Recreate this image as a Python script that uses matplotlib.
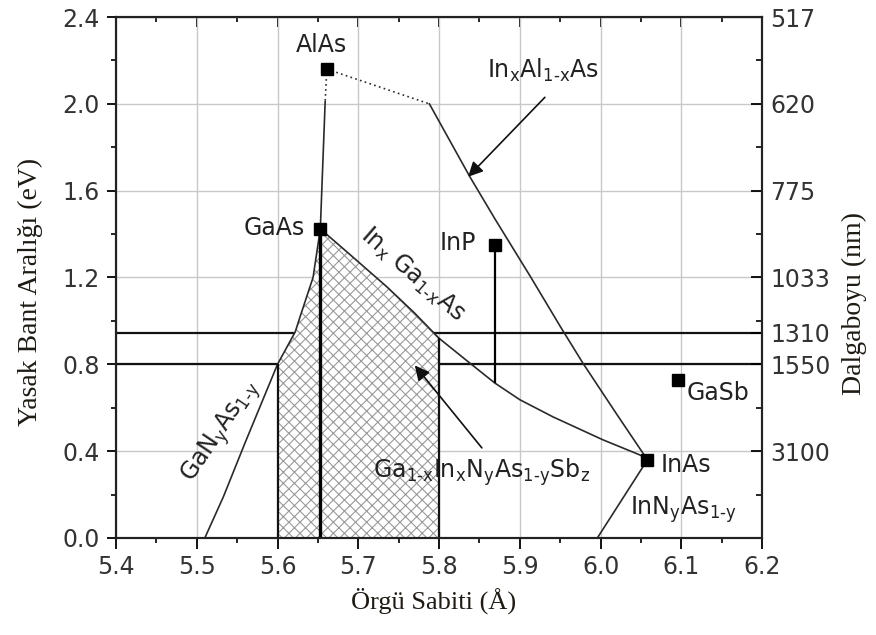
import numpy as np
import matplotlib.pyplot as plt
from matplotlib.patches import Polygon

plt.rcParams['font.family'] = 'DejaVu Sans'
plt.rcParams['hatch.linewidth'] = 0.8

# binary compounds: lattice constant (A) and band gap (eV)
compounds = ['AlAs', 'GaAs', 'InP', 'GaSb', 'InAs']
lattice = [5.661, 5.653, 5.869, 6.096, 6.058]
bandgap = [2.16, 1.424, 1.35, 0.726, 0.36]

# ternary / quaternary curves
alas_gaas_a = [5.661, 5.659, 5.653]
alas_gaas_eg = [2.16, 2.01, 1.424]

inalas_a = [5.661, 5.788, 5.838, 5.870, 5.913, 5.950, 5.978, 6.020, 6.058]
inalas_eg = [2.16, 2.00, 1.665, 1.465, 1.205, 0.975, 0.806, 0.57, 0.36]

ingaas_a = [5.653, 5.693, 5.736, 5.770, 5.800, 5.838, 5.869, 5.900, 5.941, 6.003, 6.049, 6.058]
ingaas_eg = [1.424, 1.295, 1.155, 1.035, 0.920, 0.806, 0.714, 0.637, 0.558, 0.452, 0.382, 0.36]

ganas_a = [5.51, 5.533, 5.56, 5.60, 5.622, 5.628, 5.644, 5.653]
ganas_eg = [0.0, 0.19, 0.44, 0.80, 0.95, 1.02, 1.20, 1.424]

innas_a = [5.996, 6.058]
innas_eg = [0.0, 0.36]

inp_drop = 0.714          # InP vertical line ends on the InGaAs curve
region_a = [5.60, 5.80]   # GaInNAsSb hatched window

# right axis: wavelength (nm) -> eV
wavelengths = [517, 620, 775, 1033, 1310, 1550, 3100]
telecom = [1310, 1550]

fig, ax = plt.subplots(figsize=(8.76, 6.35), dpi=100)
fig.subplots_adjust(left=0.1324, right=0.870, bottom=0.1528, top=0.9732)

ax.set_xlim(5.4, 6.2)
ax.set_ylim(0, 2.4)
ax.set_xticks(np.arange(5.4, 6.21, 0.1))
ax.set_xticks(np.arange(5.45, 6.2, 0.1), minor=True)
ax.set_yticks(np.arange(0, 2.41, 0.4))
ax.set_yticks(np.arange(0.2, 2.4, 0.4), minor=True)
ax.xaxis.set_major_formatter(plt.FormatStrFormatter('%.1f'))
ax.yaxis.set_major_formatter(plt.FormatStrFormatter('%.1f'))
ax.grid(True, which='major', color='#c8c8c8', lw=1.0, zorder=0)
ax.set_axisbelow(True)

for s in ax.spines.values():
    s.set_linewidth(1.5)
    s.set_color('#222222')

ax.tick_params(axis='x', which='major', direction='out', length=8, width=1.3,
               labelsize=17, labelcolor='#333333', pad=4)
ax.tick_params(axis='x', which='minor', direction='out', length=3.5, width=1.2)
ax.tick_params(axis='y', which='major', direction='out', length=6.5, width=1.3,
               labelsize=17, labelcolor='#333333', pad=5)
ax.tick_params(axis='y', which='minor', direction='out', length=3.5, width=1.2)

top = ax.secondary_xaxis('top')
top.set_xticks(np.arange(5.4, 6.21, 0.1))
top.set_xticks(np.arange(5.45, 6.2, 0.1), minor=True)
top.tick_params(which='major', direction='in', length=7, width=1.3, labeltop=False)
top.tick_params(which='minor', direction='in', length=3.5, width=1.2)

# telecom wavelength lines
for w in telecom:
    ax.axhline(1240.0 / w, color='#111111', lw=1.6, zorder=1)

# hatched GaInNAsSb region
ga = np.array(ganas_a); ge = np.array(ganas_eg)
ia = np.array(ingaas_a); ie = np.array(ingaas_eg)
verts = [(region_a[0], 0)]
verts += [(a, e) for a, e in zip(ga, ge) if a >= region_a[0]]
verts += [(a, e) for a, e in zip(ia[1:], ie[1:]) if a <= region_a[1]]
verts += [(region_a[1], 0)]
ax.add_patch(Polygon(verts, closed=True, facecolor='white', edgecolor='none', zorder=2))
ax.add_patch(Polygon(verts, closed=True, facecolor='none', edgecolor='#9a9a9a',
                     hatch='xxx', lw=0, zorder=2.1))

curve = dict(color='#2a2a2a', lw=1.2, zorder=3)
ax.plot(alas_gaas_a[:2], alas_gaas_eg[:2], ls=(0, (1, 2)), **curve)
ax.plot(alas_gaas_a[1:], alas_gaas_eg[1:], **curve)
ax.plot(inalas_a[:2], inalas_eg[:2], ls=(0, (1, 2)), **curve)
ax.plot(inalas_a[1:], inalas_eg[1:], **curve)
ax.plot(ingaas_a, ingaas_eg, **curve)
ax.plot(ganas_a, ganas_eg, **curve)
ax.plot(innas_a, innas_eg, **curve)

# vertical lines
ax.vlines(region_a[0], 0, ge[ga == region_a[0]][0], color='#111111', lw=1.6, zorder=4)
ax.vlines(region_a[1], 0, ie[ia == region_a[1]][0], color='#111111', lw=1.6, zorder=4)
ax.vlines(lattice[1], 0, bandgap[1], color='black', lw=2.4, zorder=4)
ax.vlines(lattice[2], inp_drop, bandgap[2], color='black', lw=1.6, zorder=4)

ax.plot(lattice, bandgap, 's', color='black', ms=9, zorder=5)

# arrows
arrow = dict(arrowstyle='-|>', color='#111111', lw=1.2, mutation_scale=22,
             shrinkA=0, shrinkB=0)
ax.annotate('', xy=(5.836, 1.664), xytext=(5.931, 2.03), arrowprops=arrow, zorder=6)
ax.annotate('', xy=(5.77, 0.795), xytext=(5.853, 0.415), arrowprops=arrow, zorder=6)

# labels
fs = 17
tc = '#222222'
hy = '\u2010'


def sub(s):
    return r'$_\mathregular{' + s.replace('-', hy) + '}$'


ax.text(5.654, 2.27, 'AlAs', fontsize=fs, color=tc, ha='center', va='center')
ax.text(5.634, 1.43, 'GaAs', fontsize=fs, color=tc, ha='right', va='center')
ax.text(5.846, 1.36, 'InP', fontsize=fs, color=tc, ha='right', va='center')
ax.text(6.107, 0.635, 'GaSb', fontsize=fs, color=tc, ha='left', va='baseline')
ax.text(6.074, 0.306, 'InAs', fontsize=fs, color=tc, ha='left', va='baseline')
ax.text(5.929, 2.12, 'In' + sub('x') + 'Al' + sub('1-x') + 'As', fontsize=fs,
        color=tc, ha='center', va='baseline')
ax.text(6.036, 0.106, 'InN' + sub('y') + 'As' + sub('1-y'), fontsize=fs,
        color=tc, ha='left', va='baseline')
ax.text(5.718, 0.276,
        'Ga' + sub('1-x') + 'In' + sub('x') + 'N' + sub('y') + 'As' + sub('1-y') + 'Sb' + sub('z'),
        fontsize=fs, color=tc, ha='left', va='baseline')
ax.text(5.767, 1.215, 'In' + sub('x') + ' Ga' + sub('1-x') + 'As', fontsize=fs,
        color=tc, ha='center', va='center', rotation=-41, rotation_mode='anchor')
ax.text(5.530, 0.49, 'GaN' + sub('y') + 'As' + sub('1-y'), fontsize=fs,
        color=tc, ha='center', va='center', rotation=56, rotation_mode='anchor')

# right axis in wavelength
ax2 = ax.twinx()
ax2.set_ylim(0, 2.4)
ax2.set_yticks([1240.0 / w for w in wavelengths])
ax2.set_yticklabels([str(w) for w in wavelengths])
ax2.set_yticks(np.arange(0.2, 2.4, 0.4), minor=True)
ax2.tick_params(axis='y', which='major', direction='in', length=8, width=1.3,
                labelsize=17, labelcolor='#333333', pad=6)
ax2.tick_params(axis='y', which='minor', direction='in', length=4.5, width=1.2)
for s in ax2.spines.values():
    s.set_linewidth(1.5)
    s.set_color('#222222')

lab = dict(family='Liberation Serif', color='#1e1a14')
ax.set_xlabel('Örgü Sabiti (Å)', fontsize=19, **lab)
ax.xaxis.set_label_coords(0.491, -0.096)
ax.set_ylabel('Yasak Bant Aralığı (eV)', fontsize=20, **lab)
ax.yaxis.set_label_coords(-0.113, 0.473)
ax2.set_ylabel('Dalgaboyu (nm)', fontsize=20, rotation=90, **lab)
ax2.yaxis.set_label_coords(1.123, 0.451)

fig.savefig('out.png', dpi=100)
